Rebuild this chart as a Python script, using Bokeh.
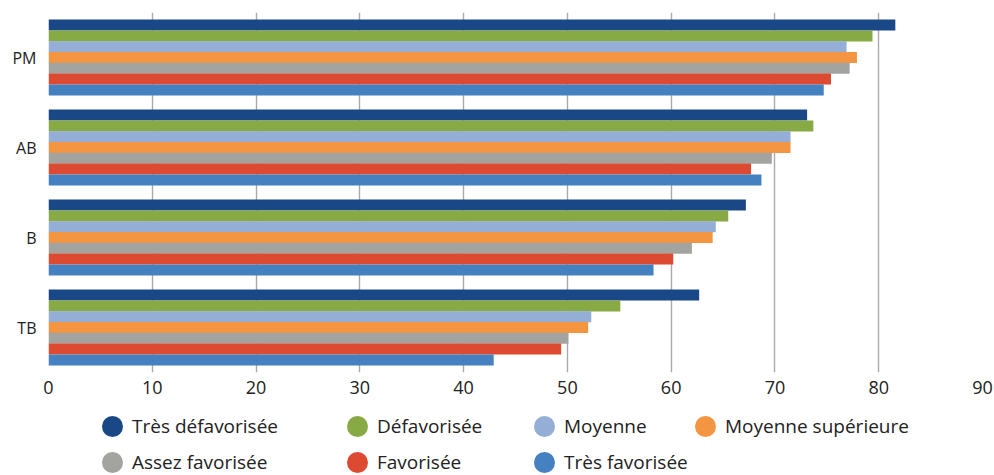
from bokeh.plotting import figure
from bokeh.layouts import column
from bokeh.models import ColumnDataSource, FactorRange, Legend, LegendItem, FixedTicker
from bokeh.transform import dodge
from bokeh.embed import file_html
from bokeh.resources import INLINE

categories = ["PM", "AB", "B", "TB"]
series = ["Très défavorisée", "Défavorisée", "Moyenne", "Moyenne supérieure",
          "Assez favorisée", "Favorisée", "Très favorisée"]
colors = ["#1a4886", "#88aa45", "#95aed6", "#f39541", "#a3a4a0", "#dc4a31", "#4581c0"]

tres_defavorisee = [81.6, 73.1, 67.2, 62.7]
defavorisee = [79.4, 73.7, 65.5, 55.1]
moyenne = [76.9, 71.5, 64.3, 52.3]
moyenne_superieure = [77.9, 71.5, 64.0, 52.0]
assez_favorisee = [77.2, 69.7, 62.0, 50.1]
favorisee = [75.4, 67.7, 60.2, 49.4]
tres_favorisee = [74.7, 68.7, 58.3, 42.9]
values = [tres_defavorisee, defavorisee, moyenne, moyenne_superieure,
          assez_favorisee, favorisee, tres_favorisee]
x_ticks = [0, 10, 20, 30, 40, 50, 60, 70, 80, 90]

FONT = "Open Sans"
TXT = "#222222"
W = 994

p = figure(width=W, height=400, output_backend="svg", toolbar_location=None,
           y_range=FactorRange(*reversed(categories), range_padding=0),
           x_range=(0, 90), min_border_left=48, min_border_right=12,
           min_border_top=12, min_border_bottom=28)
p.outline_line_color = None
p.background_fill_color = "white"
p.border_fill_color = "white"

step = 0.12
for i, (name, vals, col) in enumerate(zip(series, values, colors)):
    src = ColumnDataSource(dict(cat=categories, val=vals))
    off = (3 - i) * step
    p.hbar(y=dodge("cat", off, range=p.y_range), left=0, right="val",
           height=step + 0.002, source=src, fill_color=col, line_color=None)

p.xgrid.grid_line_color = "#aaaaaa"
p.xgrid.grid_line_width = 1.4
p.ygrid.grid_line_color = None
p.xaxis.ticker = FixedTicker(ticks=x_ticks)
p.xaxis.minor_tick_line_color = None
p.xaxis.major_tick_line_color = None
p.xaxis.major_tick_out = 0
p.xaxis.major_tick_in = 0
p.xaxis.axis_line_color = None
p.xaxis.major_label_standoff = 8
p.xaxis.major_label_text_font = FONT
p.xaxis.major_label_text_font_size = "18px"
p.xaxis.major_label_text_color = TXT

p.yaxis.axis_line_color = None
p.yaxis.major_tick_line_color = None
p.yaxis.minor_tick_line_color = None
p.yaxis.major_tick_out = 0
p.yaxis.major_tick_in = 0
p.yaxis.major_label_standoff = 12
p.yaxis.major_label_text_font = FONT
p.yaxis.major_label_text_font_size = "16px"
p.yaxis.major_label_text_color = TXT

# legend figure below the chart: 4 columns x 2 rows
lf = figure(width=W, height=75, output_backend="svg", toolbar_location=None,
            x_range=(0, 1), y_range=(0, 1), min_border=0,
            x_axis_location=None, y_axis_location=None)
lf.grid.visible = False
lf.outline_line_color = None
lf.background_fill_color = "white"
lf.border_fill_color = "white"

col_x = [44, 289, 476, 637]
row_y = [29, -7]
for i, (name, col) in enumerate(zip(series, colors)):
    # dummy point outside the visible range: only used to draw the legend glyph
    r = lf.scatter(x=[-5], y=[-5], marker="circle", fill_color=col,
                   line_color=col, line_width=5)
    lg = Legend(items=[LegendItem(label=name, renderers=[r])],
                location=(col_x[i % 4], row_y[i // 4]),
                glyph_width=40, glyph_height=40, label_standoff=0,
                padding=0, margin=0, spacing=0,
                border_line_color=None, background_fill_alpha=0,
                label_text_font=FONT, label_text_font_size="19px",
                label_text_color=TXT)
    lf.add_layout(lg, "center")

layout = column(p, lf, spacing=0)
open("out.html", "w").write(file_html(layout, INLINE))
